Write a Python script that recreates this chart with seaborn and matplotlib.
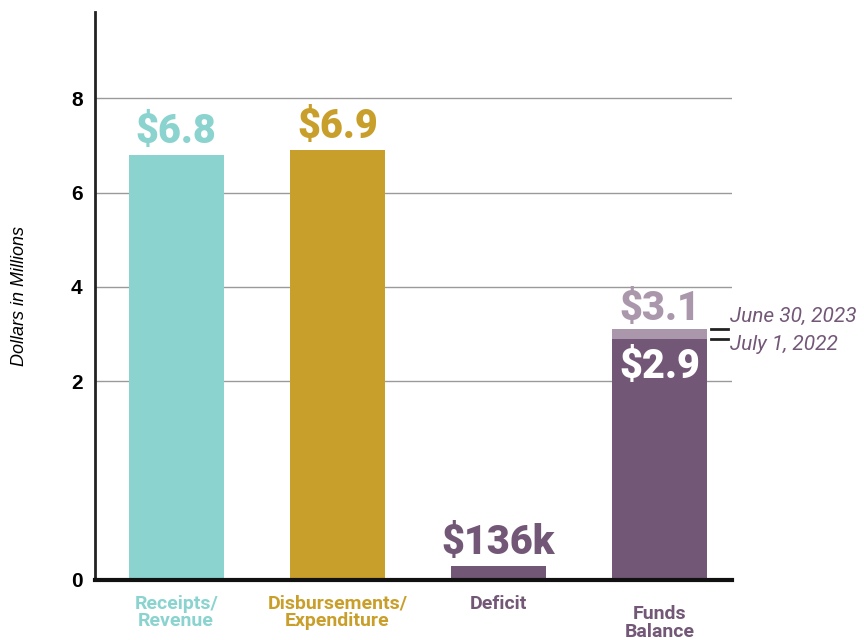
import numpy as np
import pandas as pd
import seaborn as sns
import matplotlib.pyplot as plt

categories = ['Receipts/\nRevenue', 'Disbursements/\nExpenditure', 'Deficit', 'Funds\nBalance']
values = [6.8, 6.9, 0.136, 2.9]
value_labels = ['$6.8', '$6.9', '$136k', '$2.9']
bar_colors = ['#8ad3cf', '#c99f2c', '#735777', '#735777']
funds_start = 2.9   # July 1, 2022
funds_end = 3.1     # June 30, 2023
funds_end_label = '$3.1'
yticks = [0, 2, 4, 6, 8]

purple = '#735777'
light_purple = '#ab97ac'

# the axis is stretched below 2: 0-2 takes about twice the room of 2-4
def fwd(y):
    return np.interp(y, [0, 2, 40], [0, 4.22, 42.22])

def inv(v):
    return np.interp(v, [0, 4.22, 42.22], [0, 2, 40])

plt.rcParams['font.family'] = ['Roboto', 'DejaVu Sans']

df = pd.DataFrame({'cat': categories, 'val': values})

fig = plt.figure(figsize=(8.64, 6.4), dpi=100)
ax = fig.add_axes([0.110, 0.094, 0.737, 0.887])

w = 0.59
sns.barplot(data=df, x='cat', y='val', hue='cat', palette=bar_colors,
            width=w, saturation=1, legend=False, ax=ax, zorder=2)
ax.bar(3, funds_end - funds_start, bottom=funds_start, width=w,
       color=light_purple, zorder=2)

ax.set_yscale('function', functions=(fwd, inv))
ax.set_ylim(0, 9.83)
ax.set_xlim(-0.503, 3.447)
ax.set_yticks(yticks)
ax.set_yticklabels([str(t) for t in yticks], fontsize=15, fontweight='bold',
                   family='Liberation Sans')
ax.tick_params(axis='y', length=0, pad=9)
ax.tick_params(axis='x', length=0)
ax.set_xticks(range(len(categories)))
ax.set_xticklabels([])
ax.set_xlabel('')
ax.set_ylabel('Dollars in Millions', fontsize=13, style='italic',
              family='Liberation Sans', labelpad=31)

for t in yticks[1:]:
    ax.axhline(t, color='#9a9a9a', lw=1, zorder=0)

for s in ['top', 'right']:
    ax.spines[s].set_visible(False)
ax.spines['left'].set_color('#222222')
ax.spines['left'].set_linewidth(2)
ax.spines['bottom'].set_color('#111111')
ax.spines['bottom'].set_linewidth(3)
ax.spines['bottom'].set_zorder(3)

# value labels
for i in range(3):
    ax.annotate(value_labels[i], xy=(i, values[i]), xytext=(0, 3),
                textcoords='offset points', ha='center', va='bottom',
                fontsize=28.5, fontweight='heavy', color=bar_colors[i])
ax.annotate(funds_end_label, xy=(3, funds_end), xytext=(0, 1),
            textcoords='offset points', ha='center', va='bottom',
            fontsize=28.5, fontweight='heavy', color=light_purple)
ax.annotate(value_labels[3], xy=(3, funds_start), xytext=(0, -6),
            textcoords='offset points', ha='center', va='top',
            fontsize=28.5, fontweight='heavy', color='white')

# leader marks for the two funds balance dates
x0 = 3 + w / 2 + 0.02
x1 = x0 + 0.11
ax.plot([x0, x1], [funds_end, funds_end], color='#222222', lw=2, clip_on=False)
ax.plot([x0, x1], [funds_start, funds_start], color='#222222', lw=2, clip_on=False)
ax.annotate('June 30, 2023', xy=(x1, funds_end), xytext=(1, 9),
            textcoords='offset points', ha='left', va='center',
            fontsize=15, style='italic', color=purple, annotation_clip=False)
ax.annotate('July 1, 2022', xy=(x1, funds_start), xytext=(1, -4),
            textcoords='offset points', ha='left', va='center',
            fontsize=15, style='italic', color=purple, annotation_clip=False)

# category labels
label_colors = ['#8ad3cf', '#c99f2c', purple, purple]
for i, lab in enumerate(categories):
    drop = -0.026 if i < 3 else -0.045
    ax.text(i, drop, lab, transform=ax.get_xaxis_transform(), ha='center',
            va='top', fontsize=14, fontweight='bold', color=label_colors[i],
            linespacing=0.95)

fig.savefig('out.png', dpi=100)
